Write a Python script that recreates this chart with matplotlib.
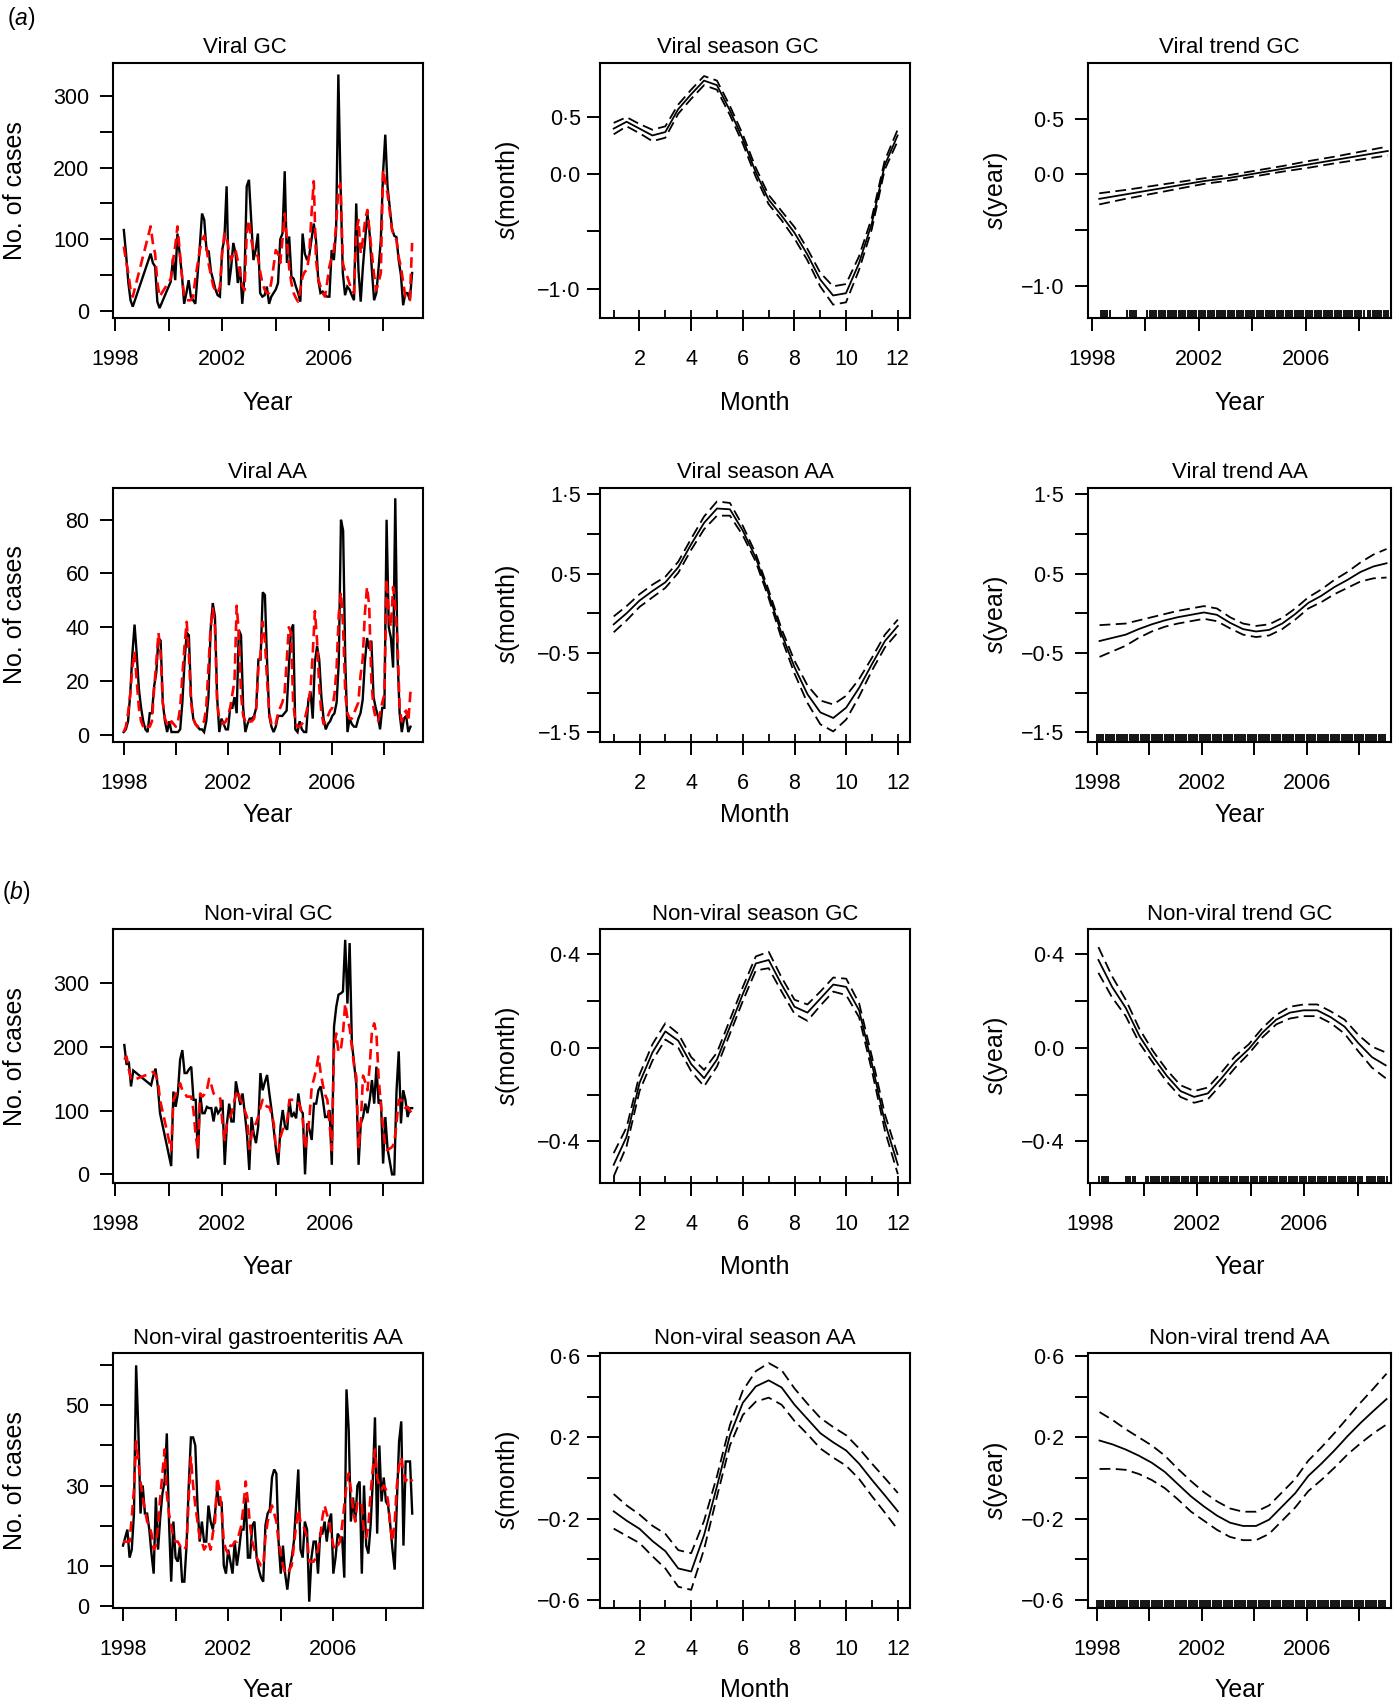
import numpy as np
import matplotlib
matplotlib.use('Agg')
import matplotlib.pyplot as plt
from matplotlib.ticker import FixedLocator, FixedFormatter
from matplotlib.transforms import blended_transform_factory

plt.rcParams['font.family'] = ['Liberation Sans', 'DejaVu Sans']
plt.rcParams['mathtext.fontset'] = 'custom'
plt.rcParams['mathtext.rm'] = 'Liberation Sans'
plt.rcParams['mathtext.it'] = 'Liberation Sans:italic'

# ---------------------------------------------------------------- data
# GC series time points (decimal years, months with missing data omitted)
gc_year = np.concatenate([1998 + np.arange(4, 9) / 12, 1999 + np.arange(4, 9) / 12,
                          2000 + np.arange(1, 99) / 12, 2008 + np.arange(4, 14) / 12])
# AA series time points (monthly)
aa_year = 1998 + np.arange(133) / 12

viral_gc_obs = [113, 80, 40, 15, 6,
                80, 67, 62, 13, 4,
                41, 74, 43, 108, 80, 50, 10, 25, 43, 20, 15, 10,
                50, 90, 136, 127, 85, 83, 55, 43, 30, 22, 20, 85,
                100, 174, 36, 60, 95, 80, 39, 62, 10, 48, 174, 183,
                127, 71, 85, 108, 25, 20, 22, 34, 10, 20, 25, 30,
                39, 100, 108, 195, 67, 104, 48, 45, 34, 25, 13, 108,
                80, 71, 78, 100, 122, 99, 43, 25, 27, 22, 20, 20,
                85, 71, 113, 330, 174, 53, 22, 34, 30, 22, 15, 150,
                57, 13, 62, 100, 136, 108, 57, 15, 25, 60, 99, 192,
                246, 174,
                115, 105, 103, 71, 50, 8, 25, 25, 15, 53]
viral_gc_fit = [90, 70, 53, 30, 20,
                118, 95, 80, 40, 20,
                45, 70, 90, 118, 85, 50, 20, 15, 15, 15, 20, 45,
                65, 85, 99, 105, 90, 65, 50, 35, 28, 25, 34, 80,
                108, 103, 85, 71, 80, 85, 70, 53, 35, 29, 108, 127,
                100, 85, 80, 76, 55, 39, 30, 25, 25, 40, 62, 85,
                80, 67, 100, 136, 99, 60, 39, 25, 18, 13, 30, 48,
                55, 57, 80, 136, 181, 71, 45, 34, 25, 20, 40, 62,
                75, 85, 120, 170, 178, 67, 55, 48, 38, 30, 25, 110,
                127, 80, 100, 127, 141, 110, 80, 50, 29, 40, 53, 197,
                180, 164,
                113, 105, 99, 75, 62, 40, 20, 15, 15, 95]

viral_aa_obs = [1, 2, 5, 15, 30, 41, 30, 17, 10, 5, 2, 1,
                8, 8, 18, 23, 36, 35, 12, 5, 1, 5, 1, 1,
                1, 1, 2, 12, 27, 38, 37, 14, 6, 4, 3, 2,
                2, 1, 5, 14, 39, 49, 44, 14, 1, 6, 4, 2,
                2, 10, 10, 14, 8, 39, 37, 10, 1, 4, 6, 6,
                7, 10, 28, 28, 53, 52, 27, 7, 3, 1, 3, 7,
                7, 7, 8, 9, 25, 39, 41, 2, 1, 5, 2, 1,
                1, 13, 16, 6, 27, 33, 28, 14, 6, 2, 4, 5,
                7, 8, 12, 27, 80, 76, 27, 1, 6, 4, 3, 3,
                6, 8, 13, 27, 36, 32, 35, 14, 10, 7, 2, 10,
                10, 80, 40, 36, 25, 88, 30, 8, 1, 6, 7, 1,
                3]
viral_aa_fit = [1, 3, 8, 15, 25, 31, 20, 10, 5, 3, 2, 3,
                3, 5, 17, 27, 38, 30, 12, 6, 4, 3, 5, 4,
                3, 5, 10, 22, 33, 42, 30, 12, 6, 4, 3, 4,
                4, 5, 10, 25, 40, 47, 40, 12, 6, 5, 4, 5,
                7, 10, 15, 20, 48, 38, 15, 7, 5, 4, 5, 5,
                6, 10, 25, 30, 42, 35, 20, 8, 4, 3, 4, 8,
                10, 12, 15, 27, 40, 38, 12, 5, 3, 3, 4, 5,
                8, 12, 17, 30, 46, 35, 18, 8, 4, 5, 7, 9,
                10, 15, 25, 45, 53, 40, 15, 8, 6, 6, 8, 10,
                12, 22, 28, 45, 55, 48, 20, 10, 6, 5, 8, 12,
                15, 58, 45, 40, 55, 48, 35, 10, 5, 8, 9, 5,
                16]

nonviral_gc_obs = [203, 172, 177, 138, 163,
                   140, 155, 166, 138, 96,
                   13, 130, 106, 127, 180, 195, 159, 159, 165, 169, 117, 117,
                   25, 127, 96, 96, 106, 104, 104, 83, 106, 96, 101, 117,
                   15, 80, 111, 83, 83, 146, 127, 109, 127, 96, 62, 7,
                   90, 64, 49, 75, 159, 132, 145, 156, 127, 101, 70, 38,
                   15, 75, 101, 75, 70, 117, 90, 96, 88, 127, 101, 96,
                   0, 80, 70, 54, 111, 111, 132, 138, 117, 90, 90, 101,
                   15, 232, 263, 282, 284, 287, 368, 268, 363, 206, 174, 140,
                   15, 80, 90, 111, 96, 117, 148, 111, 169, 111, 117, 17,
                   90, 40,
                   0, 0, 130, 193, 80, 132, 117, 90, 104, 104]
nonviral_gc_fit = [180, 185, 165, 150, 148,
                   159, 161, 155, 148, 117,
                   38, 117, 125, 132, 143, 132, 128, 122, 122, 122, 100, 60,
                   38, 127, 122, 126, 132, 150, 140, 127, 124, 122, 119, 80,
                   54, 80, 88, 95, 111, 125, 132, 117, 112, 100, 90, 40,
                   60, 75, 80, 90, 105, 117, 110, 106, 106, 95, 80, 40,
                   35, 59, 70, 75, 85, 117, 117, 117, 117, 112, 105, 85,
                   40, 60, 90, 138, 150, 165, 185, 160, 140, 125, 117, 80,
                   38, 200, 221, 192, 195, 221, 268, 245, 230, 200, 170, 153,
                   40, 80, 155, 145, 132, 170, 225, 237, 221, 150, 110, 75,
                   40, 38,
                   43, 49, 80, 117, 117, 110, 104, 106, 100, 96]

nonviral_aa_obs = [15, 17, 19, 12, 14, 23, 60, 44, 23, 30, 23, 23,
                   19, 13, 8, 27, 14, 22, 28, 31, 43, 21, 6, 21,
                   12, 11, 15, 6, 6, 15, 30, 42, 42, 40, 25, 16,
                   21, 16, 16, 25, 21, 19, 23, 29, 25, 26, 10, 8,
                   14, 11, 8, 16, 10, 14, 19, 19, 27, 12, 12, 20,
                   21, 12, 9, 7, 6, 20, 23, 24, 32, 34, 33, 16,
                   8, 15, 8, 4, 9, 12, 16, 25, 34, 14, 12, 21,
                   19, 1, 12, 16, 16, 8, 18, 18, 21, 16, 21, 23,
                   8, 12, 18, 17, 17, 7, 54, 44, 21, 27, 21, 30,
                   31, 8, 30, 15, 13, 20, 31, 47, 18, 40, 26, 32,
                   26, 25, 20, 14, 9, 26, 41, 46, 15, 36, 36, 36, 23]
nonviral_aa_fit = [16, 16, 16, 16, 22, 29, 41, 36, 31, 27, 24, 21,
                   20, 18, 14, 15, 20, 27, 33, 39, 28, 23, 20, 17,
                   16, 16, 15, 14, 14, 15, 27, 37, 30, 25, 21, 17,
                   16, 14, 15, 16, 14, 18, 21, 32, 29, 24, 16, 14,
                   13, 15, 15, 16, 16, 18, 20, 25, 31, 26, 20, 16,
                   14, 12, 11, 10, 10, 17, 21, 23, 25, 23, 21, 16,
                   13, 10, 8, 8, 9, 10, 15, 20, 24, 21, 20, 19,
                   17, 11, 11, 11, 12, 14, 17, 22, 25, 23, 21, 18,
                   15, 14, 15, 16, 20, 25, 30, 33, 29, 24, 21, 26,
                   26, 25, 18, 17, 20, 28, 34, 39, 32, 30, 29, 30,
                   29, 26, 20, 16, 21, 30, 35, 37, 33, 31, 32, 32, 31]

# smooth terms: evaluation grids, fitted smooth and half-width of the band
month_grid = np.arange(1, 12.5, 0.5)
months = np.arange(1, 13)

vs_gc_fit = [0.40, 0.46, 0.40, 0.34, 0.37, 0.57, 0.70, 0.82, 0.78, 0.56, 0.31, 0.02,
             -0.22, -0.36, -0.51, -0.70, -0.92, -1.06, -1.04, -0.78, -0.43, 0.08, 0.34]
vs_gc_ci = [0.05, 0.04, 0.04, 0.05, 0.05, 0.04, 0.04, 0.04, 0.04, 0.04, 0.04, 0.04,
            0.04, 0.04, 0.05, 0.05, 0.06, 0.08, 0.08, 0.06, 0.05, 0.04, 0.05]

vt_gc_x = np.linspace(1998.28, 2009.07, 12)
vt_gc_fit = [-0.22, -0.18, -0.14, -0.10, -0.06, -0.03, 0.01, 0.05, 0.09, 0.13, 0.17, 0.21]
vt_gc_ci = [0.05, 0.04, 0.035, 0.03, 0.025, 0.025, 0.025, 0.025, 0.03, 0.03, 0.035, 0.04]

vs_aa_fit = [-0.14, 0.00, 0.16, 0.28, 0.39, 0.58, 0.87, 1.14, 1.32, 1.31, 1.04, 0.70,
             0.24, -0.26, -0.68, -1.02, -1.25, -1.32, -1.19, -0.94, -0.64, -0.35, -0.16]
vs_aa_ci = [0.10, 0.09, 0.08, 0.08, 0.07, 0.07, 0.07, 0.08, 0.09, 0.08, 0.06, 0.05,
            0.05, 0.06, 0.08, 0.11, 0.15, 0.17, 0.15, 0.11, 0.08, 0.08, 0.08]

vt_aa_x = np.linspace(1998.1, 2009.05, 23)
vt_aa_fit = [-0.35, -0.31, -0.27, -0.20, -0.14, -0.09, -0.05, -0.02, 0.01, -0.02, -0.12, -0.20,
             -0.23, -0.21, -0.13, -0.01, 0.13, 0.22, 0.33, 0.42, 0.52, 0.59, 0.63]
vt_aa_ci = [0.20, 0.17, 0.14, 0.11, 0.09, 0.08, 0.08, 0.08, 0.08, 0.08, 0.07, 0.07,
            0.07, 0.07, 0.07, 0.07, 0.07, 0.08, 0.09, 0.10, 0.12, 0.15, 0.18]

ns_gc_fit = [-0.50, -0.38, -0.15, -0.02, 0.07, 0.03, -0.07, -0.13, -0.05, 0.09, 0.23, 0.36,
             0.375, 0.27, 0.175, 0.15, 0.21, 0.27, 0.26, 0.16, -0.07, -0.32, -0.50]
ns_gc_ci = [0.05, 0.04, 0.035, 0.035, 0.035, 0.03, 0.03, 0.035, 0.03, 0.03, 0.03, 0.03,
            0.035, 0.03, 0.03, 0.035, 0.03, 0.03, 0.035, 0.03, 0.03, 0.035, 0.04]

nt_gc_x = np.linspace(1998.3, 2009.05, 22)
nt_gc_fit = [0.375, 0.26, 0.17, 0.05, -0.04, -0.12, -0.185, -0.21, -0.195, -0.13, -0.06,
             -0.005, 0.065, 0.12, 0.15, 0.16, 0.16, 0.13, 0.09, 0.02, -0.04, -0.075]
nt_gc_ci = [0.055, 0.045, 0.035, 0.03, 0.025, 0.025, 0.025, 0.025, 0.025, 0.025, 0.025,
            0.02, 0.02, 0.02, 0.025, 0.025, 0.025, 0.025, 0.03, 0.035, 0.045, 0.055]

ns_aa_fit = [-0.164, -0.21, -0.25, -0.31, -0.36, -0.445, -0.46, -0.28, -0.04, 0.21, 0.37, 0.45,
             0.48, 0.445, 0.36, 0.29, 0.22, 0.175, 0.135, 0.07, -0.01, -0.086, -0.164]
ns_aa_ci = [0.085, 0.075, 0.07, 0.075, 0.085, 0.09, 0.09, 0.07, 0.05, 0.05, 0.06, 0.075,
            0.085, 0.085, 0.08, 0.075, 0.075, 0.075, 0.075, 0.075, 0.08, 0.085, 0.09]

nt_aa_x = np.linspace(1998.1, 2009.05, 23)
nt_aa_fit = [0.184, 0.165, 0.14, 0.11, 0.075, 0.03, -0.03, -0.09, -0.14, -0.185, -0.22, -0.236,
             -0.236, -0.205, -0.14, -0.075, 0.01, 0.07, 0.135, 0.205, 0.27, 0.33, 0.388]
nt_aa_ci = [0.14, 0.12, 0.10, 0.09, 0.085, 0.08, 0.075, 0.075, 0.07, 0.07, 0.07, 0.07,
            0.07, 0.07, 0.07, 0.07, 0.075, 0.08, 0.085, 0.09, 0.10, 0.11, 0.125]

titles = [["Viral GC", "Viral season GC", "Viral trend GC"],
          ["Viral AA", "Viral season AA", "Viral trend AA"],
          ["Non-viral GC", "Non-viral season GC", "Non-viral trend GC"],
          ["Non-viral gastroenteritis AA", "Non-viral season AA", "Non-viral trend AA"]]

year_ticks = [1998, 2000, 2002, 2004, 2006, 2008]
year_labels = ["1998", "", "2002", "", "2006", ""]
month_ticks = [2, 4, 6, 8, 10, 12]

# ---------------------------------------------------------------- layout
W, H, DPI = 1400, 1707, 100
fig = plt.figure(figsize=(W / DPI, H / DPI), dpi=DPI)

row_top = [63, 487.5, 929.3, 1353.3]
row_bot = [318, 742, 1183.3, 1607.7]
col_lr = [(113, 423), (600, 910), (1088, 1391)]
xlab_y = [403, 815, 1267, 1690]
ylab_x = [15, 508, 996]
ytick_pad = [7.5, 4.5, 7.5]
title_shift = [[-23, -17, -10], [0, 0, 0], [0, 0, 0], [0, 0, 0]]

TICK_FS, TITLE_FS, LAB_FS = 15.5, 16, 18


def dfmt(v, nd):
    s = f"{v:.{nd}f}"
    return s.replace('-', '\u2212').replace('.', '\u00b7')


def make_axes(r, c):
    l, rr = col_lr[c]
    t, b = row_top[r], row_bot[r]
    ax = fig.add_axes([l / W, 1 - b / H, (rr - l) / W, (b - t) / H])
    for s in ax.spines.values():
        s.set_linewidth(1.5)
    ax.tick_params(direction='out', length=9.4, width=1.4, labelsize=TICK_FS, color='black')
    ax.tick_params(axis='x', pad=13)
    ax.tick_params(axis='y', pad=ytick_pad[c])
    w, h = rr - l, b - t
    ax.set_title(titles[r][c], fontsize=TITLE_FS, pad=7,
                 x=0.5 + title_shift[r][c] / w)
    return ax, w, h


def set_labels(ax, r, c, w, h, xlabel, ylabel):
    l, _ = col_lr[c]
    ax.set_xlabel(xlabel, fontsize=LAB_FS)
    ax.xaxis.set_label_coords(0.5, -(xlab_y[r] - row_bot[r]) / h)
    ax.xaxis.label.set_verticalalignment('center')
    ax.set_ylabel(ylabel, fontsize=LAB_FS)
    ax.yaxis.set_label_coords(-(l - ylab_x[c]) / w, 0.5)
    ax.yaxis.label.set_verticalalignment('center')


def set_yticks(ax, ticks, labels):
    ax.yaxis.set_major_locator(FixedLocator(ticks))
    ax.yaxis.set_major_formatter(FixedFormatter(labels))


def series_panel(r, x, obs, fit, xlim, ylim, yt, yl):
    ax, w, h = make_axes(r, 0)
    ax.plot(x, obs, color='black', lw=1.7, solid_joinstyle='miter')
    ax.plot(x, fit, color='#ff0000', lw=1.9, linestyle=(0, (4, 2.2)))
    ax.set_xlim(*xlim)
    ax.set_ylim(*ylim)
    ax.xaxis.set_major_locator(FixedLocator(year_ticks))
    ax.xaxis.set_major_formatter(FixedFormatter(year_labels))
    set_yticks(ax, yt, yl)
    set_labels(ax, r, 0, w, h, "Year", "No. of cases")
    return ax


def smooth_panel(r, c, x, fit, ci, rug_x, xlim, ylim, yt, yl):
    ax, w, h = make_axes(r, c)
    fit = np.asarray(fit)
    ci = np.asarray(ci)
    ax.plot(x, fit, color='black', lw=1.3)
    ax.plot(x, fit + ci, color='black', lw=1.3, linestyle=(0, (6, 3)))
    ax.plot(x, fit - ci, color='black', lw=1.3, linestyle=(0, (6, 3)))
    trans = blended_transform_factory(ax.transData, ax.transAxes)
    ax.vlines(rug_x, 0, 0.03, transform=trans, color='black', lw=1.3)
    ax.set_xlim(*xlim)
    ax.set_ylim(*ylim)
    if c == 1:
        ax.xaxis.set_major_locator(FixedLocator(month_ticks))
        ax.xaxis.set_major_formatter(FixedFormatter([str(m) for m in month_ticks]))
        set_labels(ax, r, c, w, h, "Month", r"$s$(month)")
    else:
        ax.xaxis.set_major_locator(FixedLocator(year_ticks))
        ax.xaxis.set_major_formatter(FixedFormatter(year_labels))
        set_labels(ax, r, c, w, h, "Year", r"$s$(year)")
    set_yticks(ax, yt, yl)
    return ax


# ---------------------------------------------------------------- row 1: viral GC
series_panel(0, gc_year, viral_gc_obs, viral_gc_fit, (1997.93, 2009.49), (-9.8, 346),
             [0, 50, 100, 150, 200, 250, 300], ["0", "", "100", "", "200", "", "300"])
yt1 = [-1.0, -0.5, 0.0, 0.5]
yl1 = [dfmt(-1.0, 1), "", dfmt(0.0, 1), dfmt(0.5, 1)]
smooth_panel(0, 1, month_grid, vs_gc_fit, vs_gc_ci, months, (0.47, 12.48), (-1.257, 0.974), yt1, yl1)
smooth_panel(0, 2, vt_gc_x, vt_gc_fit, vt_gc_ci, gc_year, (1997.86, 2009.19), (-1.29, 1.0), yt1, yl1)

# ---------------------------------------------------------------- row 2: viral AA
series_panel(1, aa_year, viral_aa_obs, viral_aa_fit, (1997.59, 2009.48), (-2.7, 92.0),
             [0, 20, 40, 60, 80], ["0", "20", "40", "60", "80"])
yt2 = [-1.5, -1.0, -0.5, 0.0, 0.5, 1.0, 1.5]
yl2 = [dfmt(-1.5, 1), "", dfmt(-0.5, 1), "", dfmt(0.5, 1), "", dfmt(1.5, 1)]
smooth_panel(1, 1, month_grid, vs_aa_fit, vs_aa_ci, months, (0.47, 12.47), (-1.623, 1.585), yt2, yl2)
smooth_panel(1, 2, vt_aa_x, vt_aa_fit, vt_aa_ci, aa_year, (1997.66, 2009.22), (-1.623, 1.585), yt2, yl2)

# ---------------------------------------------------------------- row 3: non-viral GC
series_panel(2, gc_year, nonviral_gc_obs, nonviral_gc_fit, (1997.91, 2009.49), (-14, 384.6),
             [0, 100, 200, 300], ["0", "100", "200", "300"])
yt3 = [-0.4, -0.2, 0.0, 0.2, 0.4]
yl3 = [dfmt(-0.4, 1), "", dfmt(0.0, 1), "", dfmt(0.4, 1)]
smooth_panel(2, 1, month_grid, ns_gc_fit, ns_gc_ci, months, (0.47, 12.47), (-0.579, 0.506), yt3, yl3)
smooth_panel(2, 2, nt_gc_x, nt_gc_fit, nt_gc_ci, gc_year, (1997.91, 2009.25), (-0.579, 0.506), yt3, yl3)

# ---------------------------------------------------------------- row 4: non-viral AA
series_panel(3, aa_year, nonviral_aa_obs, nonviral_aa_fit, (1997.62, 2009.41), (-0.5, 63.0),
             [0, 10, 20, 30, 40, 50, 60], ["0", "10", "", "30", "", "50", ""])
yt4 = [-0.6, -0.4, -0.2, 0.0, 0.2, 0.4, 0.6]
yl4 = [dfmt(-0.6, 1), "", dfmt(-0.2, 1), "", dfmt(0.2, 1), "", dfmt(0.6, 1)]
smooth_panel(3, 1, month_grid, ns_aa_fit, ns_aa_ci, months, (0.47, 12.47), (-0.638, 0.613), yt4, yl4)
smooth_panel(3, 2, nt_aa_x, nt_aa_fit, nt_aa_ci, aa_year, (1997.66, 2009.22), (-0.638, 0.613), yt4, yl4)

# panel letters
fig.text(7 / W, 1 - 18 / H, r"($a$)", fontsize=16.5, ha='left', va='center')
fig.text(2 / W, 1 - 892 / H, r"($b$)", fontsize=16.5, ha='left', va='center')

fig.savefig("out.png", dpi=DPI)
